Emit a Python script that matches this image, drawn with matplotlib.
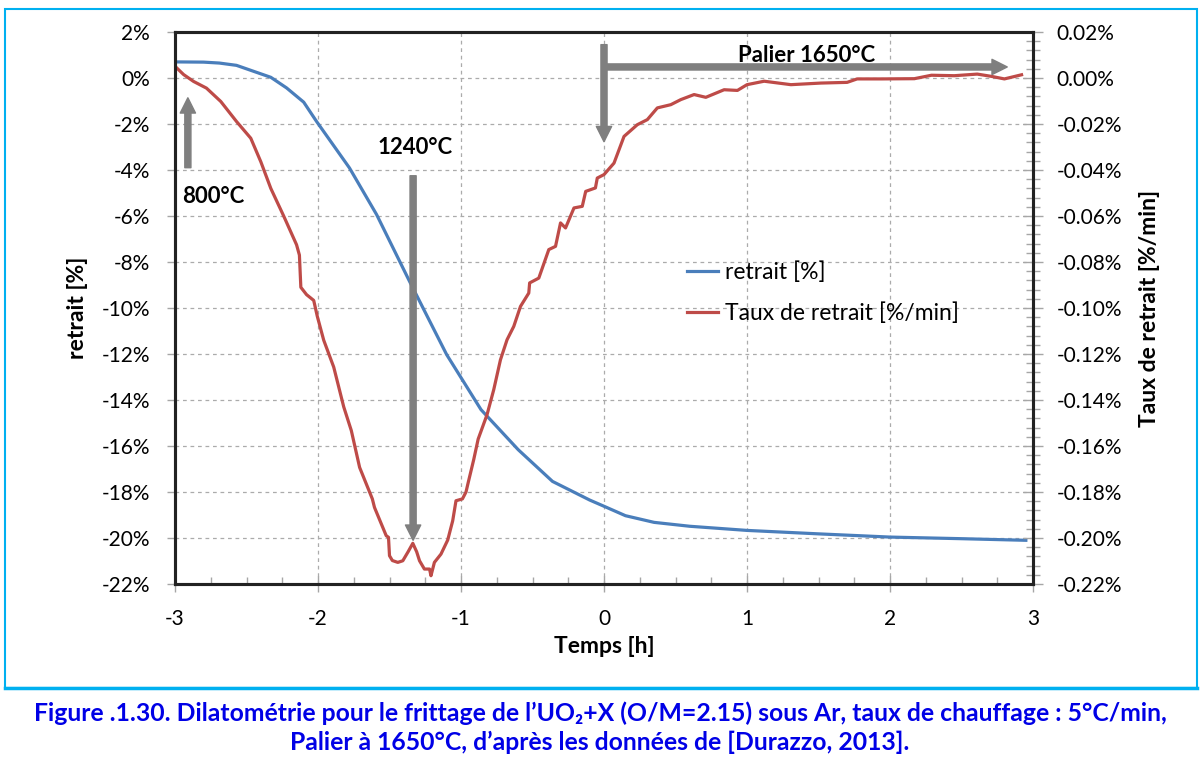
import numpy as np
import matplotlib
matplotlib.use("Agg")
import matplotlib.pyplot as plt
from matplotlib.ticker import MultipleLocator, FuncFormatter
from matplotlib.patches import Rectangle
from matplotlib.lines import Line2D

plt.rcParams['font.family'] = ['Lato', 'DejaVu Sans']

# retrait [%] (left axis)
t_retrait = [-3.0, -2.8, -2.69, -2.57, -2.45, -2.33, -2.22, -2.10, -2.01, -1.78,
             -1.59, -1.36, -1.10, -0.86, -0.60, -0.36, -0.10, 0.0, 0.15, 0.35,
             0.6, 1.0, 1.5, 2.0, 2.5, 2.95]
retrait = [0.70, 0.69, 0.65, 0.55, 0.29, 0.03, -0.43, -1.05, -1.89, -3.91,
           -5.94, -8.84, -12.03, -14.42, -16.16, -17.54, -18.35, -18.62, -19.03, -19.32,
           -19.49, -19.67, -19.82, -19.96, -20.03, -20.10]

# taux de retrait [%/min] (right axis)
t_taux = [-3.00, -2.94, -2.87, -2.78, -2.68, -2.57, -2.47, -2.40, -2.33, -2.24,
          -2.15, -2.13, -2.12, -2.08, -2.03, -2.005, -1.96, -1.89, -1.82, -1.767,
          -1.709, -1.62, -1.605, -1.523, -1.507, -1.50, -1.48, -1.442, -1.407, -1.37,
          -1.337, -1.31, -1.29, -1.256, -1.22, -1.21, -1.186, -1.14, -1.093, -1.058,
          -1.035, -0.99, -0.965, -0.95, -0.911, -0.88, -0.818, -0.771, -0.724, -0.678,
          -0.631, -0.584, -0.526, -0.52, -0.456, -0.386, -0.339, -0.304, -0.269, -0.21,
          -0.152, -0.128, -0.06, -0.047, 0.0, 0.07, 0.14, 0.233, 0.303, 0.373,
          0.467, 0.537, 0.63, 0.712, 0.84, 0.933, 1.0, 1.12, 1.307, 1.517,
          1.70, 1.77, 1.94, 2.17, 2.29, 2.45, 2.61, 2.71, 2.80, 2.92]
taux = [0.0051, 0.0015, -0.0015, -0.0044, -0.0102, -0.0189, -0.0262, -0.0364, -0.0480, -0.0600,
        -0.0725, -0.0770, -0.0910, -0.0942, -0.0967, -0.1036, -0.1140, -0.1257, -0.1430, -0.1533,
        -0.1693, -0.1830, -0.1867, -0.1990, -0.1997, -0.2077, -0.2098, -0.2106, -0.2099, -0.2060,
        -0.2023, -0.2060, -0.2099, -0.2135, -0.2135, -0.2164, -0.2106, -0.2070, -0.2009, -0.1925,
        -0.1838, -0.1830, -0.1800, -0.1760, -0.1659, -0.1570, -0.1464, -0.1355, -0.1225, -0.1138,
        -0.1080, -0.0993, -0.0935, -0.0891, -0.0870, -0.0746, -0.0732, -0.0630, -0.0652, -0.0565,
        -0.0558, -0.0493, -0.0478, -0.0435, -0.0420, -0.0370, -0.0254, -0.0203, -0.0181, -0.0130,
        -0.0116, -0.0094, -0.0072, -0.0084, -0.0051, -0.0054, -0.0029, -0.0014, -0.0029, -0.0022,
        -0.0019, -0.0004, -0.0004, -0.0003, 0.0012, 0.0010, 0.0017, 0.0007, -0.0004, 0.0014]

blue = '#4A7EBB'
red = '#BE4B48'
grey = '#7F7F7F'
cap_blue = '#0000E6'

fig = plt.figure(figsize=(12, 7.65), dpi=100)
ax = fig.add_axes([175 / 1200, 1 - 584 / 765, (1033 - 175) / 1200, (584 - 32) / 765])
ax2 = ax.twinx()

ax.plot(t_retrait, retrait, color=blue, lw=2.3, label='retrait [%]')
ax2.plot(t_taux, taux, color=red, lw=2.3, label='Taux de retrait [%/min]')

ax.set_xlim(-3, 3)
ax.set_ylim(-22, 2)
ax2.set_ylim(-0.22, 0.02)

ax.xaxis.set_major_locator(MultipleLocator(1))
ax.xaxis.set_minor_locator(MultipleLocator(0.25))
ax.yaxis.set_major_locator(MultipleLocator(2))
ax2.yaxis.set_major_locator(MultipleLocator(0.02))
ax2.yaxis.set_minor_locator(MultipleLocator(0.004))

ax.xaxis.set_major_formatter(FuncFormatter(lambda v, p: f'{v:.0f}'))
ax.yaxis.set_major_formatter(FuncFormatter(lambda v, p: f'{v:.0f}%'))
ax2.yaxis.set_major_formatter(FuncFormatter(lambda v, p: f'{v:.2f}%'))

ax.grid(True, which='major', color='#ABABAB', lw=0.9, ls=(0, (3, 3)))
ax.set_axisbelow(True)

ax.tick_params(axis='y', which='major', direction='out', length=6, width=1, color='#A6A6A6',
               labelsize=15, pad=12)
ax.tick_params(axis='x', which='major', direction='inout', length=12, width=1, color='#A6A6A6',
               labelsize=15, pad=12)
ax.tick_params(axis='x', which='minor', direction='in', length=5, width=1, color='#A6A6A6')
ax2.tick_params(axis='y', which='major', direction='inout', length=14, width=1, color='#A6A6A6',
                labelsize=15, pad=10)
ax2.tick_params(axis='y', which='minor', direction='inout', length=10, width=1, color='#A6A6A6')

for a in (ax, ax2):
    for s in a.spines.values():
        s.set_linewidth(2.2)
        s.set_color('#222222')

ax.set_xlabel('Temps [h]', fontsize=16.5, fontweight='bold', labelpad=5)
ax.set_ylabel('retrait [%]', fontsize=16.5, fontweight='bold', labelpad=10)
ax2.set_ylabel('Taux de retrait [%/min]', fontsize=16.5, fontweight='bold', labelpad=12)

# annotations (drawn in left-axis units, placed on the top axes)
arrow = dict(arrowstyle='simple,head_length=0.55,head_width=0.55,tail_width=0.22',
             color=grey, shrinkA=0, shrinkB=0, mutation_scale=20)
tr = ax.transData
ax2.annotate('', xy=(-2.91, -0.86), xytext=(-2.91, -3.9), xycoords=tr, textcoords=tr, arrowprops=arrow)
ax2.text(-2.95, -5.17, '800°C', transform=tr, fontsize=16, fontweight='bold', ha='left', va='center')
ax2.annotate('', xy=(-1.335, -20.1), xytext=(-1.335, -4.25), xycoords=tr, textcoords=tr, arrowprops=arrow)
ax2.text(-1.32, -3.03, '1240°C', transform=tr, fontsize=16, fontweight='bold', ha='center', va='center')
ax2.annotate('', xy=(0.0, -2.77), xytext=(0.0, 1.45), xycoords=tr, textcoords=tr, arrowprops=arrow)
ax2.annotate('', xy=(2.82, 0.48), xytext=(0.0, 0.48), xycoords=tr, textcoords=tr, arrowprops=arrow)
ax2.text(1.415, 1.0, 'Palier 1650°C', transform=tr, fontsize=16, fontweight='bold', ha='center', va='center')

handles = ax.get_lines() + ax2.get_lines()
fig.legend(handles, [h.get_label() for h in handles], loc='upper left',
           bbox_to_anchor=(687 / 1200, 1 - 261 / 765), frameon=False, fontsize=16.5,
           handlelength=1.35, handletextpad=0.3, labelspacing=0.85, borderpad=0, borderaxespad=0)

# frame and caption
fig.add_artist(Rectangle((5 / 1200, 1 - 688 / 765), 1192 / 1200, 679 / 765, transform=fig.transFigure,
                         fill=False, edgecolor='#00B0F0', lw=1.5))
fig.add_artist(Line2D([5 / 1200, 1197 / 1200], [1 - 688 / 765] * 2, transform=fig.transFigure,
                      color='#00B0F0', lw=2.5))
fig.text(0.5, 1 - 713 / 765,
         'Figure .1.30. Dilatométrie pour le frittage de l\u2019UO\u2082+X (O/M=2.15) sous Ar, taux de chauffage : 5°C/min,',
         ha='center', va='center', fontsize=17.8, fontweight='bold', color=cap_blue)
fig.text(0.5, 1 - 742 / 765, 'Palier à 1650°C, d\u2019après les données de [Durazzo, 2013].',
         ha='center', va='center', fontsize=17.8, fontweight='bold', color=cap_blue)

fig.savefig('out.png', dpi=100)
